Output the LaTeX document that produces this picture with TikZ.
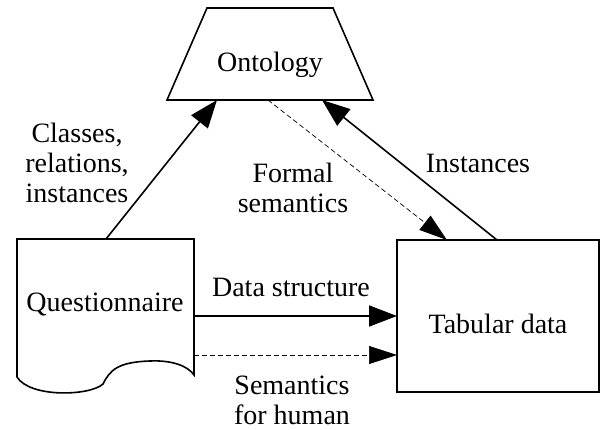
\documentclass[tikz,border=0pt]{standalone}
\usepackage{fontspec}
\setmainfont{Liberation Serif}
\usetikzlibrary{arrows.meta}
\begin{document}
\begin{tikzpicture}[x=1pt,y=-1pt,
  lbl/.style={font=\fontsize{28}{30}\selectfont, anchor=base, align=center, inner sep=0pt},
  outline/.style={line width=1.6pt, line join=miter},
  flow/.style={line width=1.6pt, -{Triangle[length=28pt,width=21pt]}},
  hint/.style={line width=0.7pt, dash pattern=on 5pt off 3pt, -{Triangle[length=28pt,width=18pt]}}]
\useasboundingbox (0,0) rectangle (602,430);

% Ontology: trapezoid
\draw[outline] (207,8) -- (333,8) -- (373,100) -- (167,100) -- cycle;
\node[lbl] (onto) at (270,72) {Ontology};
\coordinate (ontoL) at (217,100);
\coordinate (ontoM) at (268,100);
\coordinate (ontoR) at (322,100);

% Questionnaire: document shape with wavy bottom
\draw[outline] (17,239) -- (194,239) -- (194,375)
  .. controls (188,366) and (172,360) .. (150,361)
  .. controls (118,362) and (110,370) .. (103,384)
  .. controls (90,396) and (30,398) .. (17,377) -- cycle;
\node[lbl] (quest) at (105,311) {Questionnaire};
\coordinate (questT) at (106,239);
\coordinate (questR1) at (194,316);
\coordinate (questR2) at (194,355);

% Tabular data: rectangle
\draw[outline] (397,240) rectangle (599,392);
\node[lbl] (tab) at (498,333) {Tabular data};
\coordinate (tabL1) at (397,316);
\coordinate (tabL2) at (397,355);
\coordinate (tabTM) at (447,240);
\coordinate (tabTR) at (497,240);

% Connectors
\draw[flow] (questT) -- (ontoL);
\draw[flow] (tabTR) -- (ontoR);
\draw[hint] (ontoM) -- (tabTM);
\draw[flow] (questR1) -- (tabL1);
\draw[hint] (questR2) -- (tabL2);

% Connector labels (base anchor sits on the last line)
\node[lbl] (lclasses) at (77,203) {Classes,\\relations,\\instances};
\node[lbl] (lformal) at (293,213) {Formal\\semantics};
\node[lbl] (linst) at (478,173) {Instances};
\node[lbl] (ldata) at (291,296) {Data structure};
\node[lbl] (lhuman) at (292,424) {Semantics\\for human};
\end{tikzpicture}
\end{document}
